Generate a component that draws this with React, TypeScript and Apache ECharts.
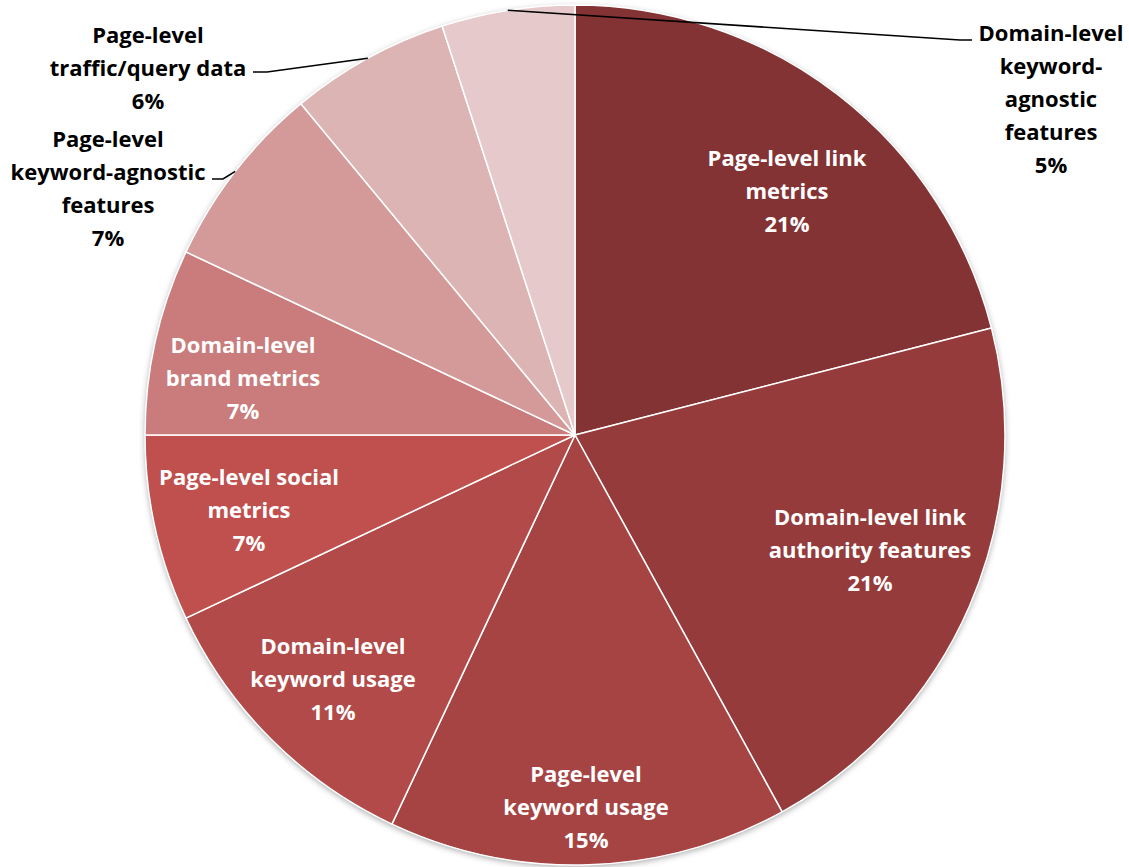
import React, { useEffect, useRef } from "react";
import * as echarts from "echarts";

// ---- data ----
const CATEGORIES: string[] = [
  "Page-level link\nmetrics",
  "Domain-level link\nauthority features",
  "Page-level\nkeyword usage",
  "Domain-level\nkeyword usage",
  "Page-level social\nmetrics",
  "Domain-level\nbrand metrics",
  "Page-level\nkeyword-agnostic\nfeatures",
  "Page-level\ntraffic/query data",
  "Domain-level\nkeyword-\nagnostic\nfeatures",
];
const SHARES: number[] = [21, 21, 15, 11, 7, 7, 7, 6, 5];
const LABEL_OUTSIDE: boolean[] = [false, false, false, false, false, false, true, true, true];

// ---- style / layout ----
const W = 1129;
const H = 867;
const CX = 575;
const CY = 435;
const R = 430;
const COLORS = [
  "#843335",
  "#953b3b",
  "#a64443",
  "#b14a48",
  "#c0504d",
  "#c97c7b",
  "#d49a99",
  "#ddb4b4",
  "#e6c9ca",
];
// label block centres, as pixel offsets from the pie centre
const LABEL_OFFSETS: number[][] = [
  [212, -245],
  [295, 114],
  [11, 371],
  [-242, 243],
  [-326, 74],
  [-332, -58],
  [-467, -248],
  [-427, -368],
  [476, -337],
];
// leader line elbow and end, offsets from the pie centre
const LEADERS: Record<number, number[][]> = {
  6: [[-352, -256], [-363, -256]],
  7: [[-308, -363], [-322, -363]],
  8: [[385, -395], [397, -395]],
};
const FONT = "'Open Sans', 'Noto Sans', sans-serif";

function midAnglePoint(idx: number): number[] {
  const total = SHARES.reduce((a, b) => a + b, 0);
  let cum = 0;
  for (let i = 0; i < idx; i++) cum += SHARES[i];
  const a = ((cum + SHARES[idx] / 2) / total) * Math.PI * 2;
  return [CX + R * Math.sin(a), CY - R * Math.cos(a)];
}

export default function App() {
  const ref = useRef<HTMLDivElement | null>(null);

  useEffect(() => {
    if (!ref.current) return;
    const chart = echarts.init(ref.current, undefined, { renderer: "svg" });

    const pieData = CATEGORIES.map((name, i) => ({
      name,
      value: SHARES[i],
      itemStyle: { color: COLORS[i] },
    }));

    const labelData = CATEGORIES.map((name, i) => ({
      name,
      value: SHARES[i],
      label: LABEL_OUTSIDE[i]
        ? { position: "outside", color: "#000000" }
        : { position: "inside", color: "#ffffff" },
      labelLine: { show: LABEL_OUTSIDE[i] },
    }));

    chart.setOption({
      animation: false,
      backgroundColor: "#ffffff",
      series: [
        {
          type: "pie",
          silent: true,
          z: 1,
          center: [CX, CY],
          radius: R,
          label: { show: false },
          labelLine: { show: false },
          itemStyle: {
            color: "#ffffff",
            shadowColor: "rgba(0,0,0,0.35)",
            shadowBlur: 6,
            shadowOffsetY: 2,
          },
          data: [{ value: 1, name: "" }],
        },
        {
          type: "pie",
          z: 2,
          center: [CX, CY],
          radius: R,
          startAngle: 90,
          clockwise: true,
          itemStyle: { borderColor: "#ffffff", borderWidth: 1.5 },
          label: { show: false },
          labelLine: { show: false },
          data: pieData,
        },
        {
          type: "pie",
          z: 3,
          silent: true,
          center: [CX, CY],
          radius: R,
          startAngle: 90,
          clockwise: true,
          avoidLabelOverlap: false,
          itemStyle: { color: "rgba(0,0,0,0)", borderWidth: 0 },
          label: {
            show: true,
            fontFamily: FONT,
            fontWeight: "bold",
            fontSize: 22,
            lineHeight: 33,
            align: "center",
            formatter: (p: any) => `${p.name}\n${p.value}%`,
          },
          labelLine: {
            showAbove: true,
            maxSurfaceAngle: 180,
            minTurnAngle: 0,
            lineStyle: { color: "#000000", width: 1.5 },
          },
          labelLayout: (params: any) => {
            const i = params.dataIndex;
            const off = LABEL_OFFSETS[i];
            const out: any = {
              x: CX + off[0],
              y: CY + off[1],
              align: "center",
              verticalAlign: "middle",
            };
            if (LEADERS[i]) {
              const start = midAnglePoint(i);
              out.labelLinePoints = [
                start,
                [CX + LEADERS[i][0][0], CY + LEADERS[i][0][1]],
                [CX + LEADERS[i][1][0], CY + LEADERS[i][1][1]],
              ];
            }
            return out;
          },
          data: labelData,
        },
      ],
    });

    return () => {
      chart.dispose();
    };
  }, []);

  return (
    <div
      ref={ref}
      style={{ position: "absolute", left: 0, top: 0, width: W, height: H }}
    />
  );
}
